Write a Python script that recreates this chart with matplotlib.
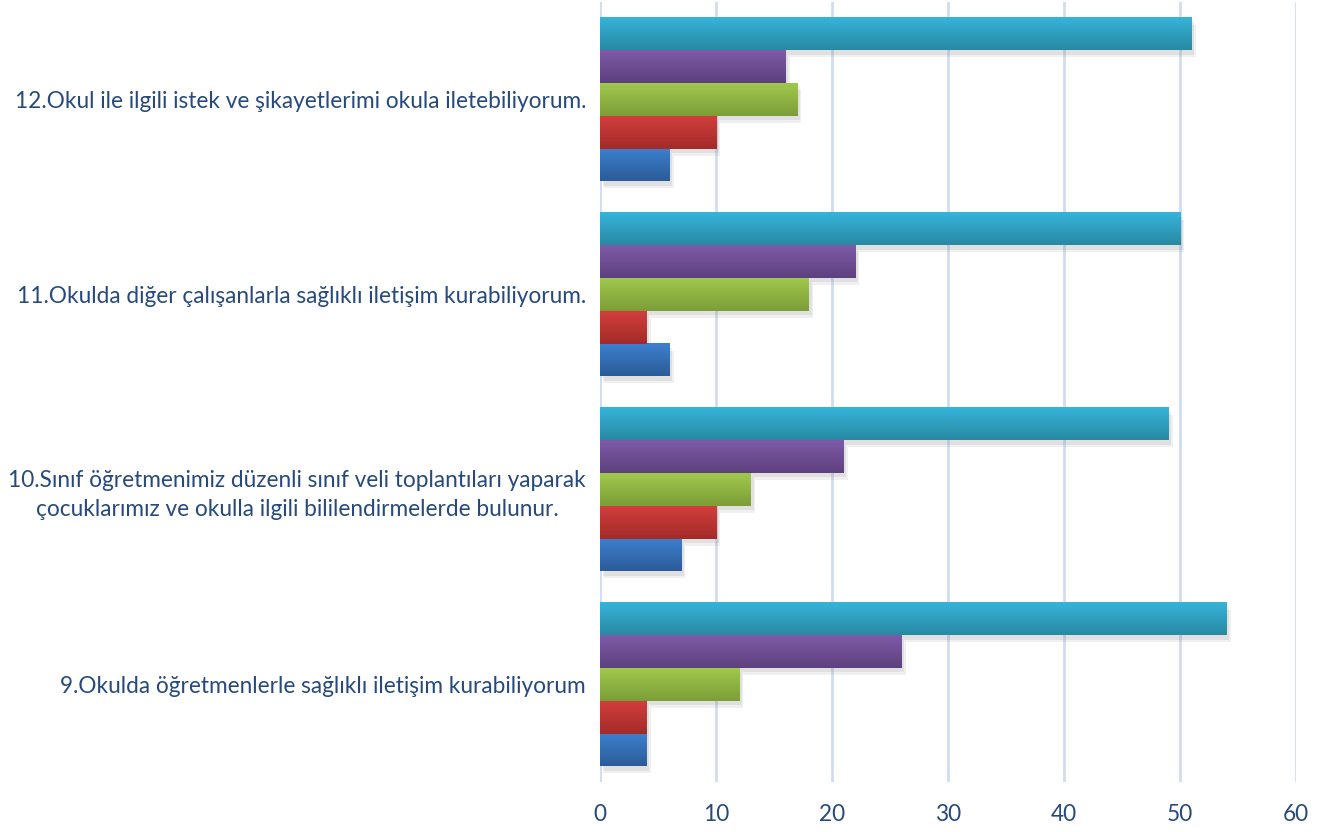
import numpy as np
import matplotlib
matplotlib.use('Agg')
import matplotlib.pyplot as plt
import matplotlib.patheffects as pe
from matplotlib.colors import LinearSegmentedColormap

# questions (bottom to top)
QUESTIONS = [
    '9.Okulda öğretmenlerle sağlıklı iletişim kurabiliyorum',
    '10.Sınıf öğretmenimiz düzenli sınıf veli toplantıları yaparak\nçocuklarımız ve okulla ilgili bililendirmelerde bulunur.',
    '11.Okulda diğer çalışanlarla sağlıklı iletişim kurabiliyorum.',
    '12.Okul ile ilgili istek ve şikayetlerimi okula iletebiliyorum.',
]

# series, bottom bar to top bar inside each group
SERIES = ['Hiç katılmıyorum', 'Katılmıyorum', 'Kararsızım', 'Katılıyorum', 'Tamamen katılıyorum']
hic = [4, 7, 6, 6]
katilmiyorum = [4, 10, 4, 10]
kararsiz = [12, 13, 18, 17]
katiliyorum = [26, 21, 22, 16]
tamamen = [54, 49, 50, 51]
VALUES = [hic, katilmiyorum, kararsiz, katiliyorum, tamamen]

X_TICKS = [0, 10, 20, 30, 40, 50, 60]

# (top colour, bottom colour) for the gradient
COLORS = [
    ('#3D7FCF', '#2B5C98'),
    ('#D23E3C', '#A22B29'),
    ('#A0C84C', '#7C9E38'),
    ('#7F5AA8', '#5D417E'),
    ('#36B4DA', '#2889A3'),
]
TEXT = '#274A7D'

fig = plt.figure(figsize=(13.19, 8.32), dpi=100)
ax = fig.add_axes([0.4549, 0.0601, 0.5277, 0.9375])

n = len(SERIES)
bh = 0.168
y = np.arange(len(QUESTIONS))
for i, (vals, (ctop, cbot)) in enumerate(zip(VALUES, COLORS)):
    pos = y + (i - (n - 1) / 2) * bh
    bars = ax.barh(pos, vals, height=bh, color=cbot, zorder=3, linewidth=0)
    cmap = LinearSegmentedColormap.from_list('g%d' % i, [cbot, ctop])
    grad = np.linspace(0, 1, 64).reshape(-1, 1)
    for b in bars:
        b.set_path_effects([
            pe.SimplePatchShadow(offset=(3, -5), shadow_rgbFace='#888888', alpha=0.12),
            pe.SimplePatchShadow(offset=(2, -3), shadow_rgbFace='#888888', alpha=0.15),
            pe.Normal()])
        x0, y0, w, h = b.get_x(), b.get_y(), b.get_width(), b.get_height()
        ax.imshow(grad, extent=[x0, x0 + w, y0, y0 + h], origin='lower', cmap=cmap,
                  aspect='auto', zorder=4, interpolation='bicubic')

ax.set_xlim(0, 60)
ax.set_ylim(-0.5, 3.5)
ax.set_xticks(X_TICKS)
ax.set_yticks(y)
ax.set_yticklabels(QUESTIONS, multialignment='center', linespacing=1.45)
ax.grid(axis='x', color='#D0DDF1', linewidth=2, zorder=0)
ax.set_axisbelow(True)
for s in ax.spines.values():
    s.set_visible(False)
ax.tick_params(axis='both', length=0, colors=TEXT, labelsize=16.3)
ax.tick_params(axis='y', pad=10)
ax.tick_params(axis='x', pad=16)
for lab in ax.get_xticklabels() + ax.get_yticklabels():
    lab.set_fontfamily('Lato')
    lab.set_color(TEXT)

fig.savefig('out.png', dpi=100)
